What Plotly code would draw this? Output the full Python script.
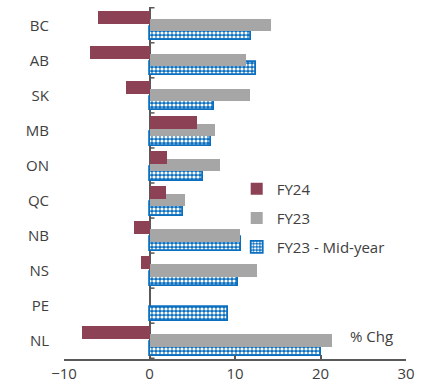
import plotly.graph_objects as go

# Provinces, top to bottom
provinces = ["BC", "AB", "SK", "MB", "ON", "QC", "NB", "NS", "PE", "NL"]

# Percent change by fiscal year (None = not reported)
fy24 = [-6.0, -7.0, -2.8, 5.6, 2.0, 1.9, -1.8, -1.0, None, -7.9]
fy23 = [14.2, 11.3, 11.7, 7.7, 8.2, 4.2, 10.6, 12.6, None, 21.4]
fy23_mid = [11.9, 12.5, 7.6, 7.2, 6.2, 3.9, 10.7, 10.3, 9.2, 20.0]

x_ticks = [-10, 0, 10, 20, 30]

MAROON = "#8c4155"
GREY = "#a6a6a6"
BLUE = "#0b6fc0"
TEXT = "#404040"
AXIS = "#595959"
FONT = "Open Sans"

fig = go.Figure()

# Drawn bottom-up: mid-year first so the others sit on top
fig.add_trace(go.Bar(
    name="FY23 - Mid-year", y=provinces, x=fy23_mid, orientation="h",
    offset=0.04, width=0.39,
    marker=dict(
        color=BLUE,
        line=dict(color=BLUE, width=1.8),
        pattern=dict(shape=".", fgcolor="white", bgcolor=BLUE,
                     size=4, solidity=0.5, fillmode="replace"),
    ),
    legend="legend3",
))
fig.add_trace(go.Bar(
    name="FY23", y=provinces, x=fy23, orientation="h",
    offset=-0.19, width=0.36,
    marker=dict(color=GREY, line=dict(width=0)),
    legend="legend2",
))
fig.add_trace(go.Bar(
    name="FY24", y=provinces, x=fy24, orientation="h",
    offset=-0.41, width=0.36,
    marker=dict(color=MAROON, line=dict(width=0)),
    legend="legend",
))

# Small ticks on the zero line at category boundaries
n = len(provinces)
for i in range(n + 1):
    fig.add_shape(
        type="line", xref="x", yref="y",
        xsizemode="pixel", xanchor=0, x0=0, x1=5,
        y0=i - 0.5, y1=i - 0.5,
        line=dict(color=AXIS, width=1.5),
    )

fig.add_annotation(
    text="% Chg", xref="paper", yref="paper",
    x=0.968, y=0.065, xanchor="right", yanchor="middle",
    showarrow=False, font=dict(family=FONT, size=15, color=TEXT),
)

legend_common = dict(
    font=dict(family=FONT, size=15, color=TEXT),
    bgcolor="rgba(0,0,0,0)", borderwidth=0,
    xanchor="left", yanchor="middle", itemwidth=30,
)
fig.update_layout(
    width=425, height=392,
    margin=dict(l=64, r=19, t=7, b=33),
    paper_bgcolor="white", plot_bgcolor="white",
    barmode="overlay",
    bargap=0,
    font=dict(family=FONT, size=15, color=TEXT),
    showlegend=True,
    legend=dict(x=0.505, y=0.483, **legend_common),
    legend2=dict(x=0.505, y=0.400, **legend_common),
    legend3=dict(x=0.505, y=0.318, **legend_common),
    xaxis=dict(
        range=[-10, 30], tickvals=x_ticks,
        showgrid=False, zeroline=True, zerolinecolor=AXIS, zerolinewidth=2,
        showline=True, linecolor=AXIS, linewidth=2,
        ticks="inside", ticklen=4, tickwidth=1.5, tickcolor=AXIS,
        tickfont=dict(family=FONT, size=15, color=TEXT),
        fixedrange=True,
    ),
    yaxis=dict(
        categoryorder="array", categoryarray=provinces,
        autorange="reversed",
        showgrid=False, zeroline=False, showline=False, ticks="",
        ticklabelstandoff=14,
        tickfont=dict(family=FONT, size=15, color=TEXT),
        fixedrange=True,
    ),
)

fig.write_html("out.html")
